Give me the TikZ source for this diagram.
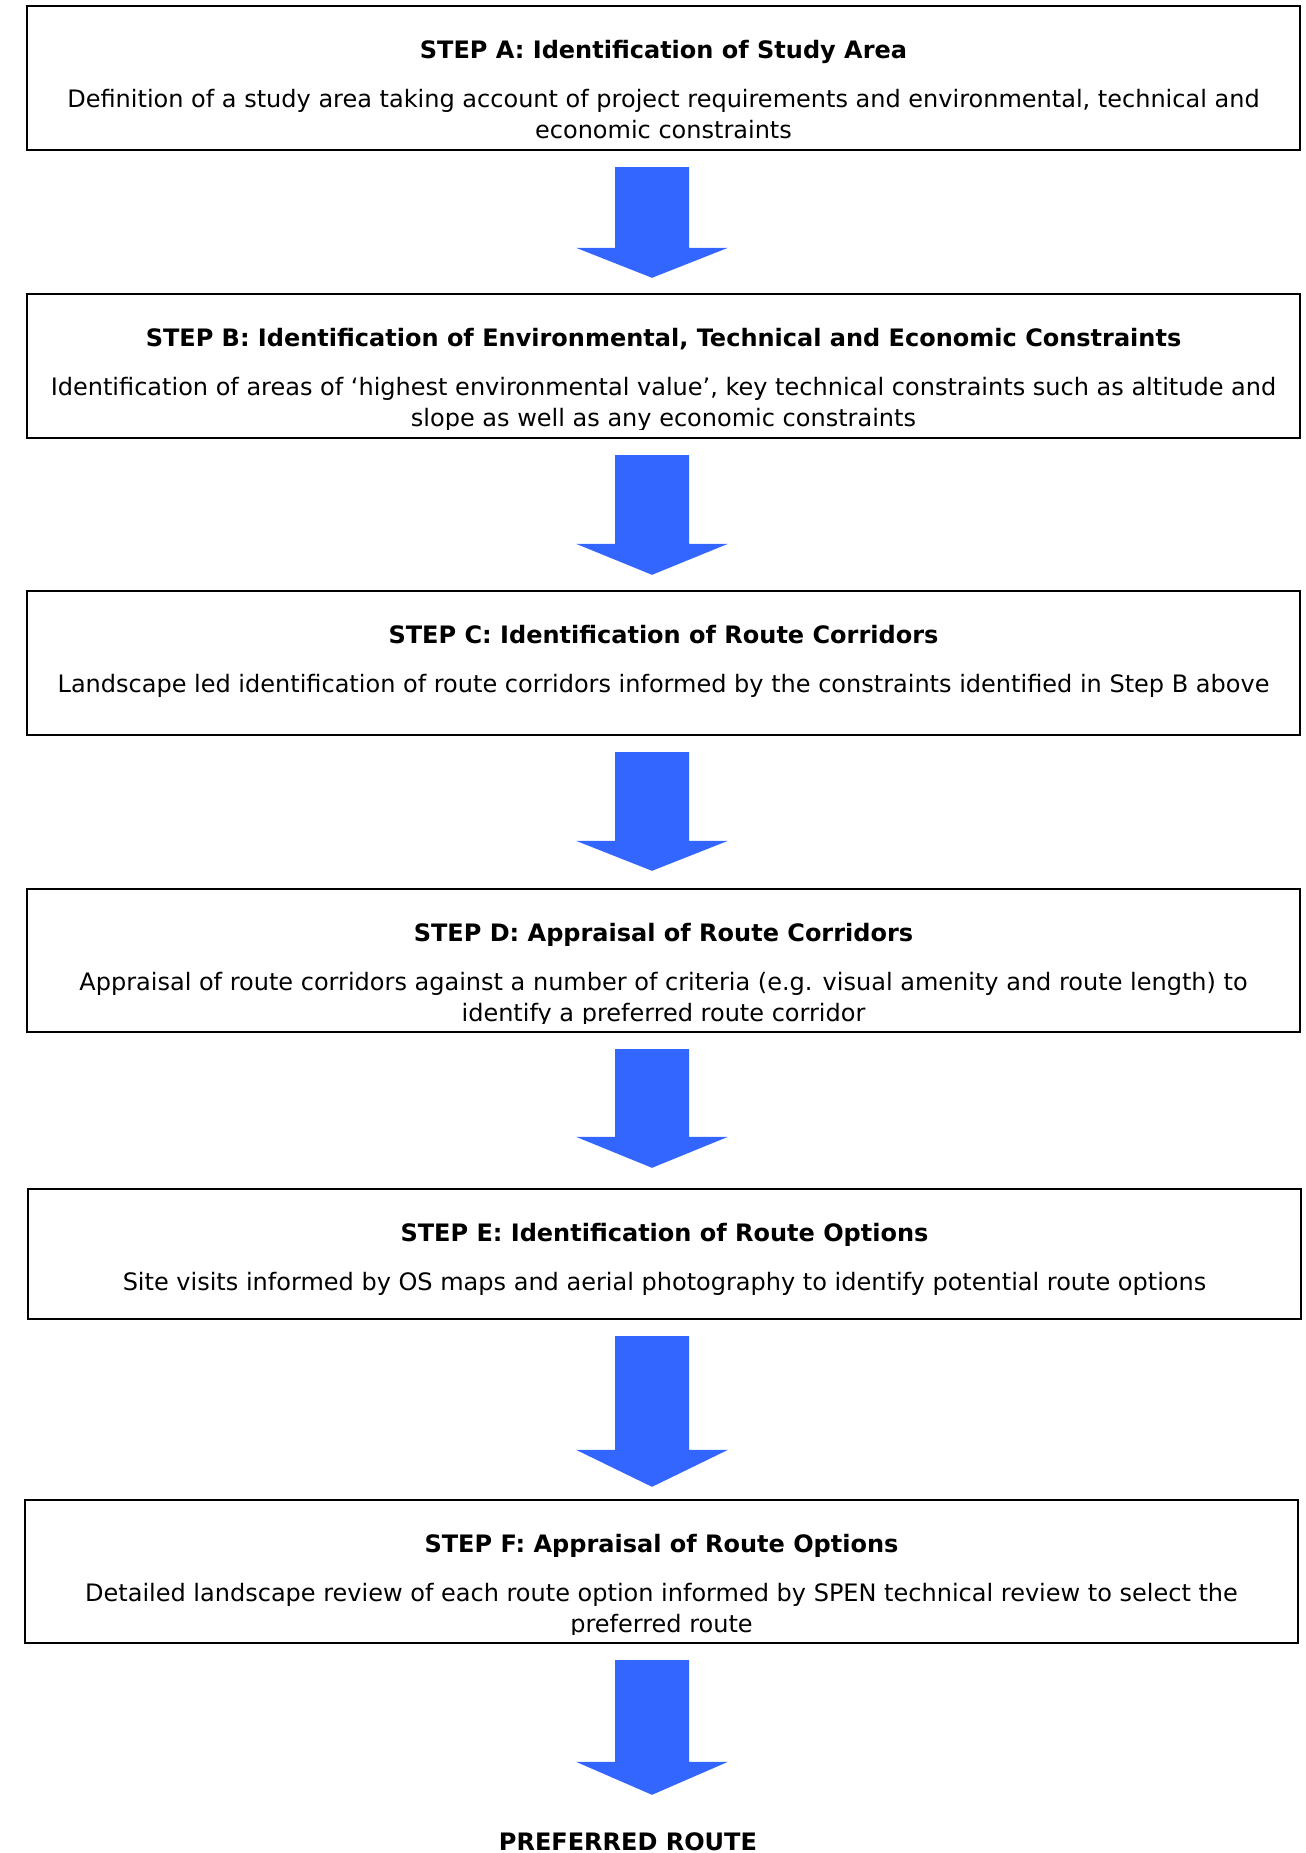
\documentclass[tikz,border=0pt]{standalone}
\usepackage{fontspec}
\setmainfont{DejaVu Sans}
\usetikzlibrary{positioning,calc}

\definecolor{flowblue}{RGB}{51,102,255}

\tikzset{
  stepframe/.style={draw, line width=1.2pt, minimum width=636.5pt, minimum height=72pt, inner sep=0pt},
  steptitle/.style={font=\fontsize{12}{15.5}\selectfont\bfseries, inner sep=0pt, anchor=base},
  steptext/.style={font=\fontsize{12}{15.5}\selectfont, align=center, inner sep=0pt, anchor=north},
}

% block arrow from one box to the next: from, to, head length, tip gap
\newcommand{\flowarrow}[4]{%
  \fill[flowblue]
    ($(#1.south -| axis)+(-37,16)$) -- ($(#1.south -| axis)+(37,16)$)
    -- ($(#2.north -| axis)+(37,-#4-#3)$) -- ($(#2.north -| axis)+(76,-#4-#3)$)
    -- ($(#2.north -| axis)+(0,-#4)$)
    -- ($(#2.north -| axis)+(-76,-#4-#3)$) -- ($(#2.north -| axis)+(-37,-#4-#3)$) -- cycle;}

\begin{document}
\begin{tikzpicture}[x=0.5pt, y=-0.5pt]
      \useasboundingbox (0,0) rectangle (1306,1853);
      \coordinate (axis) at (652,0);

      % boxes

      %A
      \node[stepframe] (study_area) at (663.5,78) {};
      \node[steptitle] (study_area_title) at ($(study_area.north)+(0,54)$) {STEP A: Identification of Study Area};
      \node[steptext] (study_area_text) at ($(study_area.north)+(0,84)$) {Definition of a study area taking account of project requirements and environmental, technical and\\economic constraints};

      %B
      \node[stepframe] (constraints) at (663.5,366) {};
      \node[steptitle] (constraints_title) at ($(constraints.north)+(0,54)$) {STEP B: Identification of Environmental, Technical and Economic Constraints};
      \begin{scope}
        \clip (constraints.north west) rectangle ($(constraints.south east)+(0,-10)$);
        \node[steptext] (constraints_text) at ($(constraints.north)+(0,84)$) {Identification of areas of ‘highest environmental value’, key technical constraints such as altitude and\\slope as well as any economic constraints};
      \end{scope}

      %C
      \node[stepframe] (route_corridors) at (663.5,663) {};
      \node[steptitle] (route_corridors_title) at ($(route_corridors.north)+(0,54)$) {STEP C: Identification of Route Corridors};
      \node[steptext] (route_corridors_text) at ($(route_corridors.north)+(0,84)$) {Landscape led identification of route corridors informed by the constraints identified in Step B above};

      %D
      \node[stepframe, minimum height=71.5pt] (corridor_appraisal) at (663.5,960.5) {};
      \node[steptitle] (corridor_appraisal_title) at ($(corridor_appraisal.north)+(0,54)$) {STEP D: Appraisal of Route Corridors};
      \begin{scope}
        \clip (corridor_appraisal.north west) rectangle ($(corridor_appraisal.south east)+(0,-10)$);
        \node[steptext] (corridor_appraisal_text) at ($(corridor_appraisal.north)+(0,84)$) {Appraisal of route corridors against a number of criteria (e.g. visual amenity and route length) to\\identify a preferred route corridor};
      \end{scope}

      %E
      \node[stepframe, minimum height=65pt] (route_options) at (664.5,1254) {};
      \node[steptitle] (route_options_title) at ($(route_options.north)+(0,54)$) {STEP E: Identification of Route Options};
      \node[steptext] (route_options_text) at ($(route_options.north)+(0,84)$) {Site visits informed by OS maps and aerial photography to identify potential route options};

      %F
      \node[stepframe, minimum height=71.5pt] (options_appraisal) at (661.5,1571.5) {};
      \node[steptitle] (options_appraisal_title) at ($(options_appraisal.north)+(0,54)$) {STEP F: Appraisal of Route Options};
      \begin{scope}
        \clip (options_appraisal.north west) rectangle ($(options_appraisal.south east)+(0,-10)$);
        \node[steptext] (options_appraisal_text) at ($(options_appraisal.north)+(0,84)$) {Detailed landscape review of each route option informed by SPEN technical review to select the\\preferred route};
      \end{scope}

      %result
      \node[steptitle] (preferred_route) at (628,1850) {PREFERRED ROUTE};

      % arrows
      \flowarrow{study_area}{constraints}{30}{15}
      \flowarrow{constraints}{route_corridors}{31}{15}
      \flowarrow{route_corridors}{corridor_appraisal}{30}{17}
      \flowarrow{corridor_appraisal}{route_options}{31}{20}
      \flowarrow{route_options}{options_appraisal}{37}{12}
      \flowarrow{options_appraisal}{preferred_route}{33}{37}

\end{tikzpicture}
\end{document}
